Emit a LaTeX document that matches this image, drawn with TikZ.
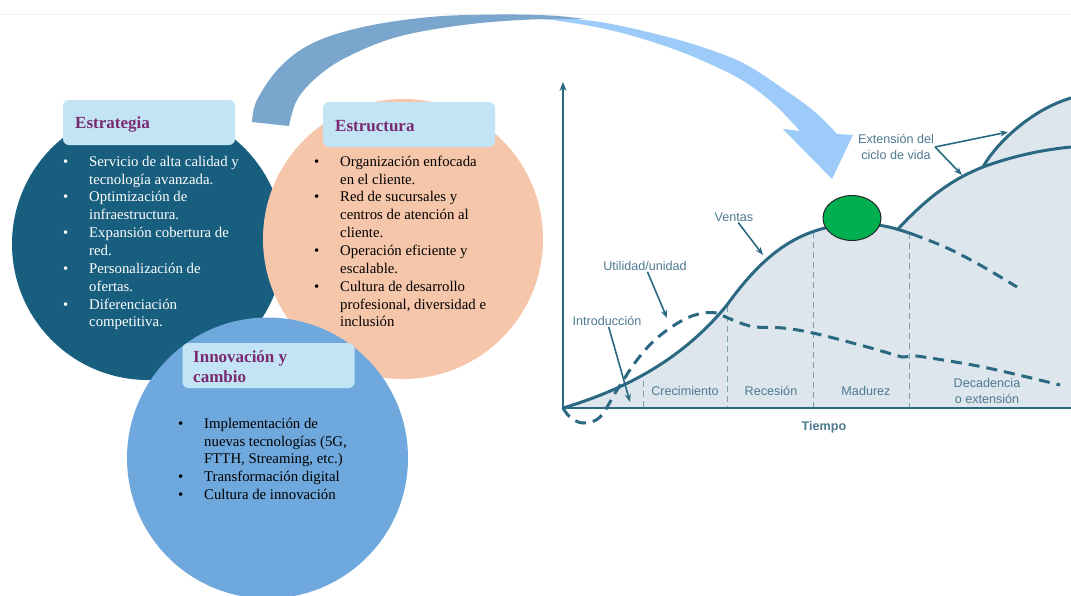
\documentclass[tikz,border=0pt]{standalone}
\usepackage{fontspec}
\setmainfont{Liberation Serif}
\newfontfamily\chartfont{Liberation Sans}
\usetikzlibrary{arrows.meta,shapes.geometric}

\definecolor{tealdark}{HTML}{185E7E}
\definecolor{peach}{HTML}{F6C6AB}
\definecolor{midblue}{HTML}{6FA8DC}
\definecolor{boxblue}{HTML}{C2E4F5}
\definecolor{titlepurple}{HTML}{7A2A70}
\definecolor{curvecol}{HTML}{2B6882}
\definecolor{areafill}{HTML}{DDE6EC}
\definecolor{charttext}{HTML}{4E7A91}
\definecolor{guidecol}{HTML}{7A9DAF}
\definecolor{arrowdark}{HTML}{7AA5CD}
\definecolor{arrowlight}{HTML}{9CCBFA}
\definecolor{peakgreen}{HTML}{00B050}

\newcommand{\bul}{\makebox[26pt][l]{\textbullet}}
\newcommand{\ind}{\hspace*{26pt}}

\tikzset{
  bigcircle/.style={circle, inner sep=0pt, draw=none},
  titlebox/.style={rounded corners=6pt, fill=boxblue, draw=none,
    minimum width=172pt, minimum height=45pt, inner sep=0pt},
  titletext/.style={anchor=base west, inner sep=0pt, text=titlepurple,
    font=\fontsize{17pt}{20pt}\selectfont\bfseries, align=left},
  listtext/.style={anchor=north west, inner sep=0pt, align=left,
    font=\fontsize{14.8pt}{17.85pt}\selectfont},
  curve/.style={draw=curvecol, line width=3pt, line cap=round},
  dashcurve/.style={draw=curvecol, line width=3pt, dash pattern=on 11pt off 7pt},
  guide/.style={draw=guidecol, line width=0.9pt, dash pattern=on 6pt off 4pt},
  axisline/.style={draw=curvecol, line width=2.2pt},
  lbl/.style={text=charttext, inner sep=1pt, font=\chartfont\fontsize{12.6pt}{15.5pt}\selectfont, align=center},
  ptr/.style={draw=curvecol, line width=1.6pt, -{Stealth[length=8pt,width=6pt]}},
}

\begin{document}
\begin{tikzpicture}[x=1pt,y=-1pt]
\useasboundingbox (0,0) rectangle (1071,595);
\fill[white] (0,0) rectangle (1071,595);
\draw[black!6, line width=0.6pt] (0,14.5) -- (1071,14.5);

% ---------- the three overlapping circles ----------
\node[bigcircle, fill=tealdark, minimum size=272pt] (cEstrategia) at (148,244) {};
\node[bigcircle, fill=peach, minimum size=280pt] (cEstructura) at (403,239) {};
\node[bigcircle, fill=midblue, minimum size=281pt] (cInnovacion) at (267.5,458) {};

% ---------- title boxes ----------
\node[titlebox] (bEstrategia) at (149,122.5) {};
\node[titletext] (tEstrategia) at (75,128) {Estrategia};
\node[titlebox] (bEstructura) at (409,124.5) {};
\node[titletext] (tEstructura) at (335,131) {Estructura};
\node[titlebox] (bInnovacion) at (268.5,365.5) {};
\node[titletext] (tInnovacion) at (193,382) {Innovación y\\cambio};

% ---------- bullet lists ----------
\node[listtext, text=white] (lEstrategia) at (63,153.5)
 {\strut\bul Servicio de alta calidad y\\
  \ind tecnología avanzada.\\
  \bul Optimización de\\
  \ind infraestructura.\\
  \bul Expansión cobertura de\\
  \ind red.\\
  \bul Personalización de\\
  \ind ofertas.\\
  \bul Diferenciación\\
  \ind competitiva.};

\node[listtext, text=black] (lEstructura) at (314,153.5)
 {\strut\bul Organización enfocada\\
  \ind en el cliente.\\
  \bul Red de sucursales y\\
  \ind centros de atención al\\
  \ind cliente.\\
  \bul Operación eficiente y\\
  \ind escalable.\\
  \bul Cultura de desarrollo\\
  \ind profesional, diversidad e\\
  \ind inclusión};

\node[listtext, text=black] (lInnovacion) at (178,415.5)
 {\strut\bul Implementación de\\
  \ind nuevas tecnologías (5G,\\
  \ind FTTH, Streaming, etc.)\\
  \bul Transformación digital\\
  \bul Cultura de innovación};

% ---------- curved arrow towards the chart ----------
\fill[arrowlight]
  plot[smooth, tension=0.6] coordinates {(540,16) (600,22) (660,35) (705,48) (745,64) (785,90) (815,112) (837,134)}
  -- (853,135) -- (832,179) -- (783,129) -- (800,131)
  -- plot[smooth, tension=0.6] coordinates {(800,131) (775,105) (745,82) (710,64) (665,46) (610,30) (560,21) (540,19)}
  -- cycle;
\fill[arrowdark]
  plot[smooth, tension=0.6] coordinates {(252,122) (257,100) (280,67) (313,43) (363,27) (430,17) (497,14.5) (550,15.5) (585,19)}
  -- plot[smooth, tension=0.6] coordinates {(585,19) (530,19.5) (463,25) (397,37) (347,57) (317,77) (297,100) (289,126)}
  -- cycle;

% ---------- product life-cycle chart ----------
\coordinate (origin) at (563,408);
\coordinate (ytop) at (563,82);
\coordinate (xend) at (1071,408);
\coordinate (branchA) at (898,229);
\coordinate (branchB) at (983,167);

% shaded area under the sales curves
\fill[areafill] (origin)
  .. controls (640,385) and (690,350) .. (727,305)
  .. controls (765,252) and (800,228) .. (850,224)
  .. controls (870,222) and (885,225) .. (branchA)
  .. controls (925,200) and (950,180) .. (branchB)
  .. controls (995,145) and (1030,110) .. (1071,98)
  -- (1071,408) -- cycle;

% phase separators
\coordinate (g1t) at (643,381); \coordinate (g1b) at (643,408);
\coordinate (g2t) at (727,306); \coordinate (g2b) at (727,408);
\coordinate (g3t) at (813,232); \coordinate (g3b) at (813,408);
\coordinate (g4t) at (909,233); \coordinate (g4b) at (909,408);
\draw[guide] (g1t) -- (g1b);
\draw[guide] (g2t) -- (g2b);
\draw[guide] (g3t) -- (g3b);
\draw[guide] (g4t) -- (g4b);

% sales curve and its extensions
\draw[curve] (origin)
  .. controls (640,385) and (690,350) .. (727,305)
  .. controls (765,252) and (800,228) .. (850,224)
  .. controls (875,222) and (895,228) .. (912,234);
\draw[dashcurve] plot[smooth, tension=0.6] coordinates {(912,234) (945,247) (980,265) (1017,287)};
\draw[curve] (branchA)
  .. controls (925,200) and (950,180) .. (branchB)
  .. controls (1010,157) and (1040,150) .. (1071,147);
\draw[curve] (branchB)
  .. controls (995,145) and (1030,110) .. (1071,98);

% profit per unit
\draw[dashcurve]
  plot[smooth, tension=0.6] coordinates {(563,408) (570,417) (583,423) (600,417) (617,390) (637,360) (657,338) (683,320) (703,313) (717,313)}
  -- plot[smooth, tension=0.6] coordinates {(717,313) (750,326) (783,328) (813,333) (860,345) (902,357)}
  -- (917,356)
  -- plot[smooth, tension=0.6] coordinates {(917,356) (983,367) (1060,385)};

% axes
\draw[axisline, -{Stealth[length=9pt,width=7pt]}] (origin) -- (ytop);
\draw[axisline] (origin) -- (xend);

% peak marker
\node[ellipse, draw=black!85, line width=1pt, fill=peakgreen, minimum width=58pt, minimum height=45pt, inner sep=0pt] (peak) at (852,218) {};

% labels with pointers
\node[lbl] (ventas) at (734,217) {Ventas};
\coordinate (ventasTip) at (763,255);
\draw[ptr] (ventas) -- (ventasTip);

\node[lbl] (utilidad) at (645,266) {Utilidad/unidad};
\coordinate (utilidadTip) at (667,318);
\draw[ptr] (utilidad) -- (utilidadTip);

\node[lbl] (intro) at (607,321) {Introducción};
\coordinate (introTip) at (630,402);
\draw[ptr] (intro) -- (introTip);

\node[lbl] (ext) at (896,147) {Extensión del\\ciclo de vida};
\coordinate (extTipA) at (1008,132);
\coordinate (extTipB) at (962,175);
\draw[ptr] (ext.east) -- (extTipA);
\draw[ptr] (ext.east) -- (extTipB);

% phase names
\node[lbl] (crec) at (685,391) {Crecimiento};
\node[lbl] (reces) at (771,391) {Recesión};
\node[lbl] (madur) at (866,391) {Madurez};
\node[lbl] (decad) at (987,391) {Decadencia\\o extensión};
\node[lbl, font=\chartfont\bfseries\fontsize{12.6pt}{15pt}\selectfont] (tiempo) at (824,427) {Tiempo};
\end{tikzpicture}
\end{document}
